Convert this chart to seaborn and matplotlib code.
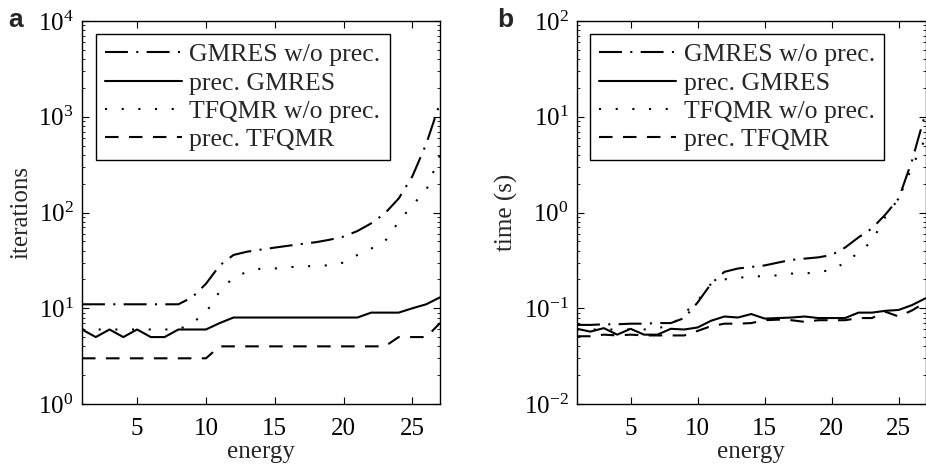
import numpy as np
import pandas as pd
import matplotlib
matplotlib.use("Agg")
import matplotlib.pyplot as plt
import seaborn as sns
from matplotlib.ticker import LogLocator, FixedLocator

# ---------------- data ----------------
energy = list(range(1, 28))

methods = ["GMRES w/o prec.", "prec. GMRES", "TFQMR w/o prec.", "prec. TFQMR"]

iter_gmres = [11, 11, 11, 11, 11, 11, 11, 11, 13, 18, 28, 36, 39, 41, 43, 45, 47, 49,
              52, 56, 64, 77, 98, 140, 240, 520, 1400]
iter_pgmres = [6, 5, 6, 5, 6, 5, 5, 6, 6, 6, 7, 8, 8, 8, 8, 8, 8, 8, 8, 8, 8, 9, 9, 9,
               10, 11, 13]
iter_tfqmr = [6, 6, 6, 6, 6, 6, 6, 6, 7, 9, 15, 21, 24, 26, 26, 27, 27, 28, 28, 30,
              36, 42, 50, 80, 120, 170, 400]
iter_ptfqmr = [3, 3, 3, 3, 3, 3, 3, 3, 3, 3, 4, 4, 4, 4, 4, 4, 4, 4, 4, 4, 4, 4, 4,
               5, 5, 5, 7]

time_gmres = [0.067, 0.067, 0.068, 0.068, 0.069, 0.069, 0.070, 0.070, 0.079, 0.115,
              0.18, 0.24, 0.26, 0.27, 0.28, 0.30, 0.32, 0.33, 0.34, 0.36, 0.43, 0.55,
              0.68, 0.95, 1.4, 3.5, 11]
time_pgmres = [0.061, 0.057, 0.062, 0.053, 0.061, 0.053, 0.053, 0.061, 0.060, 0.063,
               0.074, 0.082, 0.080, 0.087, 0.078, 0.079, 0.080, 0.082, 0.079, 0.079,
               0.079, 0.090, 0.090, 0.094, 0.096, 0.108, 0.127]
time_tfqmr = [0.060, 0.060, 0.060, 0.060, 0.060, 0.060, 0.062, 0.066, 0.088, 0.12,
              0.18, 0.20, 0.21, 0.21, 0.22, 0.22, 0.23, 0.23, 0.24, 0.25, 0.30, 0.38,
              0.50, 0.90, 1.4, 3.0, 6.0]
time_ptfqmr = [0.051, 0.051, 0.053, 0.052, 0.053, 0.052, 0.052, 0.052, 0.052, 0.058,
               0.065, 0.069, 0.069, 0.070, 0.075, 0.076, 0.075, 0.072, 0.075, 0.075,
               0.075, 0.079, 0.079, 0.092, 0.082, 0.095, 0.115]

xticks = [5, 10, 15, 20, 25]

# ---------------- style ----------------
sns.set_style("ticks")
plt.rcParams["font.family"] = ["Liberation Serif", "DejaVu Serif"]
plt.rcParams["mathtext.fontset"] = "stix"
plt.rcParams["axes.linewidth"] = 1.0
plt.rcParams["axes.edgecolor"] = "black"

dash_map = {
    "GMRES w/o prec.": (11, 4, 1, 4),
    "prec. GMRES": "",
    "TFQMR w/o prec.": (1, 7),
    "prec. TFQMR": (6.5, 5),
}


def long_df(vals, name):
    rows = []
    for m, v in zip(methods, vals):
        for e, y in zip(energy, v):
            rows.append({"energy": e, name: y, "method": m})
    return pd.DataFrame(rows)


df_iter = long_df([iter_gmres, iter_pgmres, iter_tfqmr, iter_ptfqmr], "iterations")
df_time = long_df([time_gmres, time_pgmres, time_tfqmr, time_ptfqmr], "time")

fig = plt.figure(figsize=(9.26, 4.71), dpi=100)
ax1 = fig.add_axes([82 / 926, 67 / 471, 358 / 926, 383 / 471])
ax2 = fig.add_axes([577 / 926, 67 / 471, 348.5 / 926, 383 / 471])


def draw(ax, df, ycol, ylim, ylabel):
    sns.lineplot(data=df, x="energy", y=ycol, style="method", style_order=methods,
                 dashes=dash_map, color="black", linewidth=1.5, ax=ax, legend=False,
                 estimator=None, sort=False)
    ax.set_yscale("log")
    ax.set_xlim(1, 27)
    ax.set_ylim(*ylim)
    ax.xaxis.set_major_locator(FixedLocator(xticks))
    ax.yaxis.set_major_locator(LogLocator(base=10, numticks=20))
    ax.yaxis.set_minor_locator(LogLocator(base=10, subs=np.arange(2, 10), numticks=20))
    ax.tick_params(which="both", direction="in", top=True, right=True,
                   labelsize=18, colors="black")
    ax.tick_params(which="major", length=5, width=0.8)
    ax.tick_params(axis="x", which="major", pad=10)
    ax.tick_params(axis="y", which="major", pad=6)
    ax.tick_params(which="minor", length=2.5, width=0.6)
    ax.set_xlabel("energy", fontsize=18, labelpad=1)
    ax.set_ylabel(ylabel, fontsize=18, labelpad=4)
    for s in ax.spines.values():
        s.set_visible(True)
        s.set_color("black")
    lines = ax.get_lines()[:4]
    leg = ax.legend(lines, methods, loc="upper left",
                    bbox_to_anchor=(0.038, 0.965), borderaxespad=0,
                    fontsize=18.5, frameon=True, fancybox=False, framealpha=1,
                    edgecolor="black", handlelength=3.0, handletextpad=0.3,
                    labelspacing=0.2, borderpad=0.35)
    leg.get_frame().set_linewidth(1.0)


draw(ax1, df_iter, "iterations", (1, 1e4), "iterations")
draw(ax2, df_time, "time", (1e-2, 1e2), "time (s)")

fig.text(8 / 926, 1 - 27 / 471, "a", fontsize=19, fontweight="bold",
         family="Liberation Sans", va="baseline", ha="left")
fig.text(497 / 926, 1 - 27 / 471, "b", fontsize=19, fontweight="bold",
         family="Liberation Sans", va="baseline", ha="left")

fig.savefig("out.png", dpi=100)
